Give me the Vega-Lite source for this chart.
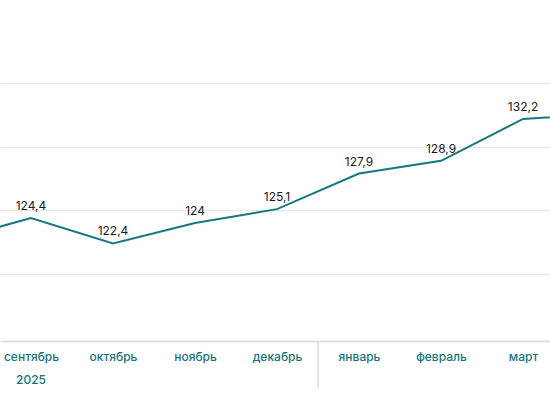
{
  "$schema": "https://vega.github.io/schema/vega-lite/v6.json",
  "width": 550,
  "height": 341,
  "autosize": {"type": "none"},
  "padding": {"left": 0, "top": 0, "right": 0, "bottom": 69},
  "background": "#ffffff",
  "config": {
    "view": {"stroke": null},
    "locale": {"number": {"decimal": ",", "thousands": " ", "grouping": [3], "currency": ["", ""]}},
    "font": "Inter"
  },
  "datasets": {
    "series": [
      {"i": 0, "month": "август", "value": 122.6},
      {"i": 1, "month": "сентябрь", "value": 124.4},
      {"i": 2, "month": "октябрь", "value": 122.4},
      {"i": 3, "month": "ноябрь", "value": 124},
      {"i": 4, "month": "декабрь", "value": 125.1},
      {"i": 5, "month": "январь", "value": 127.9},
      {"i": 6, "month": "февраль", "value": 128.9},
      {"i": 7, "month": "март", "value": 132.2},
      {"i": 8, "month": "апрель", "value": 132.6}
    ],
    "sep": [{"i": 4.5, "y1": 114.72, "y2": 111}],
    "year": [{"i": 1, "y": 111.62, "label": "2025"}]
  },
  "layer": [
    {
      "data": {"name": "series"},
      "mark": {"type": "line", "color": "#15787f", "strokeWidth": 2, "clip": true},
      "encoding": {
        "x": {
          "field": "i", "type": "quantitative",
          "scale": {"domain": [0.622, 7.329], "nice": false, "zero": false},
          "axis": {
            "values": [0, 1, 2, 3, 4, 5, 6, 7, 8],
            "labelExpr": "['август','сентябрь','октябрь','ноябрь','декабрь','январь','февраль','март','апрель'][datum.value]",
            "grid": false, "ticks": false, "title": null,
            "domainColor": "#e0e0e0", "domainWidth": 2,
            "labelColor": "#16737d", "labelFontSize": 12, "labelFontWeight": 500, "labelPadding": 10,
            "labelFont": "Inter", "labelOverlap": false, "labelFlush": false
          }
        },
        "y": {
          "field": "value", "type": "quantitative",
          "scale": {"domain": [114.72, 141.56], "nice": false, "zero": false},
          "axis": {
            "values": [120, 125, 130, 135],
            "labels": false, "ticks": false, "domain": false, "title": null,
            "gridColor": "#e6e6e6", "gridWidth": 1
          }
        }
      }
    },
    {
      "data": {"name": "series"},
      "transform": [{"filter": "datum.i >= 1 && datum.i <= 7"}],
      "mark": {"type": "text", "fontSize": 12, "color": "#1a1a1a", "baseline": "middle", "dy": -12, "clip": true, "font": "Inter"},
      "encoding": {
        "x": {"field": "i", "type": "quantitative"},
        "y": {"field": "value", "type": "quantitative"},
        "text": {"field": "value", "type": "quantitative", "format": ".1~f"}
      }
    },
    {
      "data": {"name": "sep"},
      "mark": {"type": "rule", "color": "#dddddd", "strokeWidth": 1.5},
      "encoding": {
        "x": {"field": "i", "type": "quantitative"},
        "y": {"field": "y1", "type": "quantitative"},
        "y2": {"field": "y2"}
      }
    },
    {
      "data": {"name": "year"},
      "mark": {"type": "text", "fontSize": 12, "fontWeight": 500, "color": "#16737d", "baseline": "middle", "font": "Inter"},
      "encoding": {
        "x": {"field": "i", "type": "quantitative"},
        "y": {"field": "y", "type": "quantitative"},
        "text": {"field": "label"}
      }
    }
  ]
}
